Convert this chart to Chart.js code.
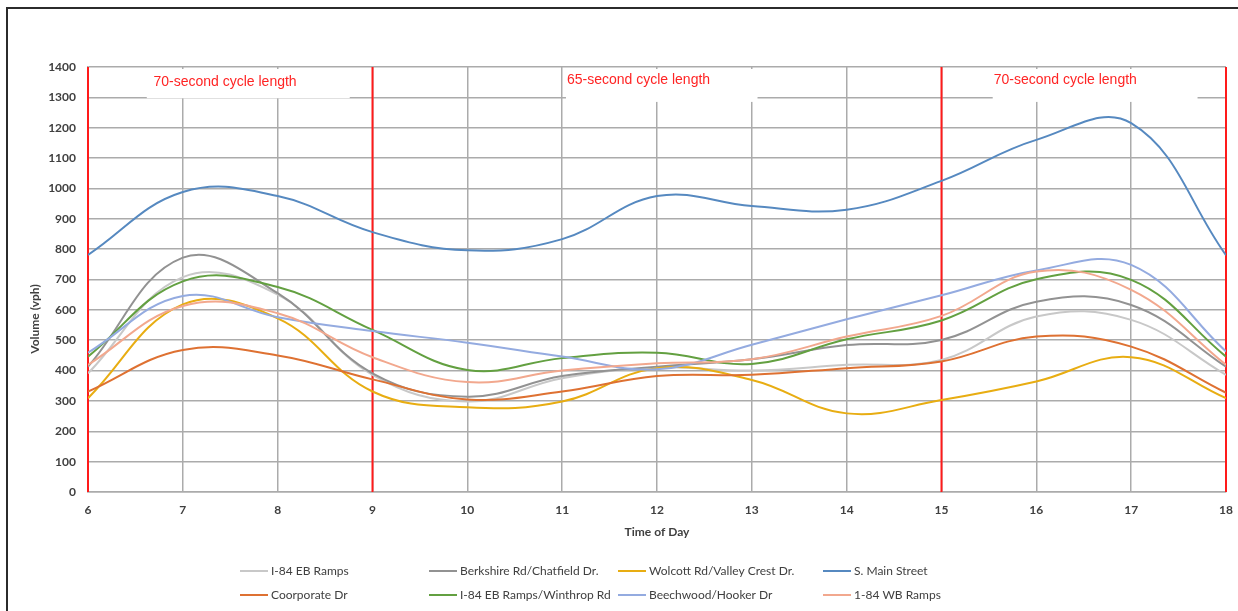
<!DOCTYPE html>
<html lang="en">
<head>
<meta charset="UTF-8">
<title>Volume by Time of Day</title>
<script src="https://cdn.jsdelivr.net/npm/chart.js@4/dist/chart.umd.min.js"></script>
<style>
  html, body { margin: 0; padding: 0; background: #fff; }
  #wrap { position: relative; width: 1238px; height: 611px; }
</style>
</head>
<body>
<div id="wrap"><canvas id="mychart" width="1238" height="611"></canvas></div>

<script>
    // hours on the x axis
    const hours = [6, 7, 8, 9, 10, 11, 12, 13, 14, 15, 16, 17, 18];

    // volumes (vph)
    const i84EbRamps   = [391, 708, 650, 386, 298, 375, 410, 400, 419, 435, 578, 567, 386];
    const berkshire    = [413, 772, 655, 391, 314, 382, 413, 437, 484, 501, 627, 616, 413];
    const wolcott      = [309, 618, 572, 331, 279, 298, 408, 369, 259, 303, 364, 444, 309];
    const sMain        = [781, 988, 975, 856, 796, 833, 975, 942, 930, 1025, 1160, 1215, 780];
    const coorporate   = [331, 468, 450, 371, 305, 331, 382, 386, 408, 430, 512, 479, 327];
    const winthrop     = [446, 694, 675, 534, 402, 441, 459, 422, 503, 565, 701, 699, 446];
    const beechwood    = [459, 646, 576, 530, 492, 446, 404, 485, 569, 648, 730, 748, 463];
    const i84WbRamps   = [419, 613, 589, 444, 362, 400, 424, 437, 512, 580, 726, 666, 419];

    const seriesNames = ['I-84 EB Ramps', 'Berkshire Rd/Chatfield Dr.', 'Wolcott Rd/Valley Crest Dr.', 'S. Main Street',
                         'Coorporate Dr', 'I-84 EB Ramps/Winthrop Rd', 'Beechwood/Hooker Dr', '1-84 WB Ramps'];
    const seriesValues = [i84EbRamps, berkshire, wolcott, sMain, coorporate, winthrop, beechwood, i84WbRamps];
    const seriesColors = ['#c8c8c8', '#929292', '#e8ad12', '#5689c0', '#de7132', '#63a041', '#94abe0', '#f2a88e'];

    // cycle length periods
    const cycleBounds = [6, 9, 15, 18];
    const cycleLabels = ['70-second cycle length', '65-second cycle length', '70-second cycle length'];
    const cycleLabelAt = [6.69, 11.05, 15.55];          // left edge of text (hour)
    const cycleBoxFrom = [6.62, 11.04, 15.54];
    const cycleBoxTo   = [8.76, 13.06, 17.7];

    const tickColor = '#404040';
    const gridColor = '#ababab';

    const datasets = seriesNames.map((name, i) => ({
        label: name,
        data: hours.map((h, j) => ({ x: h, y: seriesValues[i][j] })),
        borderColor: seriesColors[i],
        backgroundColor: seriesColors[i],
        borderWidth: 2,
        pointRadius: 0,
        tension: 0.4,
        fill: false,
        order: seriesNames.length - i,
    }));

    const extras = {
        id: 'extras',
        beforeDatasetsDraw(chart) {
            const ctx = chart.ctx;
            const xs = chart.scales.x;
            const ys = chart.scales.y;
            const top = chart.chartArea.top;
            ctx.save();
            // white boxes behind the period labels
            ctx.fillStyle = '#ffffff';
            for (let i = 0; i < cycleLabels.length; i++) {
                const x0 = xs.getPixelForValue(cycleBoxFrom[i]);
                const x1 = xs.getPixelForValue(cycleBoxTo[i]);
                const yb = i === 0 ? ys.getPixelForValue(1297) : ys.getPixelForValue(1285);
                ctx.fillRect(x0, top + 2, x1 - x0, yb - top - 2);
            }
            // red period separators
            ctx.strokeStyle = '#ff1a1a';
            ctx.lineWidth = 2;
            cycleBounds.forEach(h => {
                const x = xs.getPixelForValue(h);
                ctx.beginPath();
                ctx.moveTo(x, ys.getPixelForValue(1400));
                ctx.lineTo(x, ys.getPixelForValue(0));
                ctx.stroke();
            });
            ctx.fillStyle = '#ff2424';
            ctx.font = '14px "Liberation Sans", Arial, sans-serif';
            ctx.textBaseline = 'middle';
            ctx.textAlign = 'left';
            for (let i = 0; i < cycleLabels.length; i++) {
                const y = i === 0 ? 82 : 80;
                ctx.fillText(cycleLabels[i], xs.getPixelForValue(cycleLabelAt[i]), y);
            }
            ctx.restore();
        },
        afterDraw(chart) {
            const ctx = chart.ctx;
            ctx.save();
            // outer frame (top and left only, rest is cut off)
            ctx.fillStyle = '#2b2b2b';
            ctx.fillRect(6, 7, 1232, 2);
            ctx.fillRect(6, 7, 2, 604);

            // y axis title
            ctx.fillStyle = tickColor;
            ctx.font = 'bold 12px Lato, sans-serif';
            ctx.textAlign = 'center';
            ctx.textBaseline = 'middle';
            ctx.translate(35, 319);
            ctx.rotate(-Math.PI / 2);
            ctx.fillText('Volume (vph)', 0, 0);
            ctx.restore();

            // legend: 2 rows x 4 columns
            const colX = [240, 429, 618, 823];
            const rowY = [571, 595];
            ctx.save();
            ctx.font = '12px Lato, sans-serif';
            ctx.textBaseline = 'middle';
            ctx.textAlign = 'left';
            chart.data.datasets.forEach((ds, i) => {
                const x = colX[i % 4];
                const y = rowY[Math.floor(i / 4)];
                ctx.strokeStyle = ds.borderColor;
                ctx.lineWidth = 2;
                ctx.beginPath();
                ctx.moveTo(x, y);
                ctx.lineTo(x + 28, y);
                ctx.stroke();
                ctx.fillStyle = tickColor;
                ctx.fillText(ds.label, x + 31, y);
            });
            ctx.restore();
        }
    };

    const ctx = document.getElementById('mychart');
    const mychart = new Chart(ctx, {
        type: 'line',
        data: { datasets: datasets },
        options: {
            responsive: false,
            animation: false,
            layout: { padding: { left: 0, top: 67, right: 12, bottom: 66 } },
            plugins: {
                legend: { display: false },
                tooltip: { enabled: false },
            },
            scales: {
                x: {
                    type: 'linear',
                    min: 6,
                    max: 18,
                    afterFit(scale) {
                        scale.height = 53;
                        scale.paddingRight = 0;
                    },
                    grid: { color: gridColor, lineWidth: 1.5, drawTicks: false },
                    border: { color: gridColor, width: 1.5 },
                    ticks: {
                        stepSize: 1,
                        padding: 11,
                        color: tickColor,
                        font: { family: 'Lato', size: 12, weight: 'bold' },
                    },
                    title: {
                        display: true,
                        text: 'Time of Day',
                        color: tickColor,
                        font: { family: 'Lato', size: 12, weight: 'bold' },
                        padding: { top: 4, bottom: 6 },
                    },
                },
                y: {
                    min: 0,
                    max: 1400,
                    afterFit(scale) { scale.width = 88; },
                    grid: { color: gridColor, lineWidth: 1.5, drawTicks: false },
                    border: { color: gridColor, width: 1.5 },
                    ticks: {
                        stepSize: 100,
                        padding: 12,
                        color: tickColor,
                        font: { family: 'Lato', size: 12, weight: 'bold' },
                        callback: (v) => String(v),
                    },
                },
            },
        },
        plugins: [extras],
    });
</script>
</body>
</html>
